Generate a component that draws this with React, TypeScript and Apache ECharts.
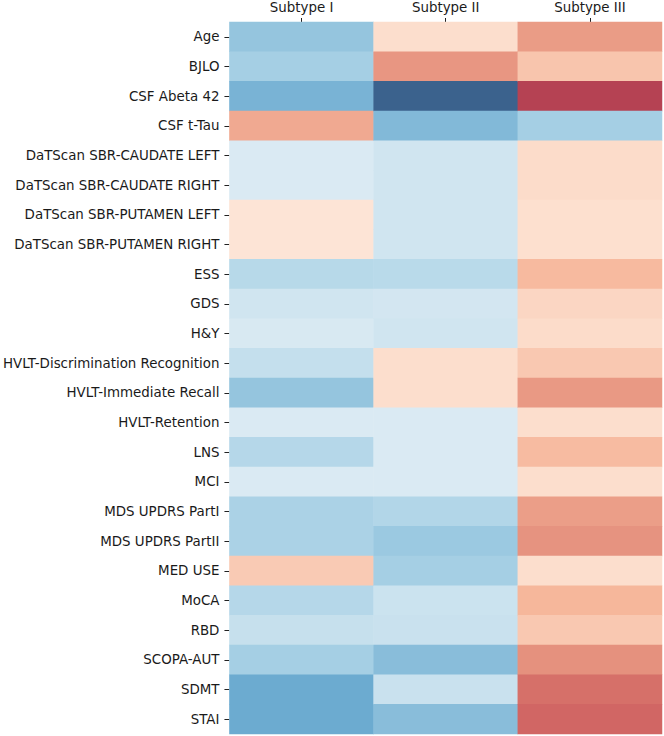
import React, { useEffect, useRef } from "react";
import * as echarts from "echarts";

const subtypes = ["Subtype I", "Subtype II", "Subtype III"];

const features = [
  "Age",
  "BJLO",
  "CSF Abeta 42",
  "CSF t-Tau",
  "DaTScan SBR-CAUDATE LEFT",
  "DaTScan SBR-CAUDATE RIGHT",
  "DaTScan SBR-PUTAMEN LEFT",
  "DaTScan SBR-PUTAMEN RIGHT",
  "ESS",
  "GDS",
  "H&Y",
  "HVLT-Discrimination Recognition",
  "HVLT-Immediate Recall",
  "HVLT-Retention",
  "LNS",
  "MCI",
  "MDS UPDRS PartI",
  "MDS UPDRS PartII",
  "MED USE",
  "MoCA",
  "RBD",
  "SCOPA-AUT",
  "SDMT",
  "STAI",
];

const subtypeI = [
  -0.46, -0.41, -0.55, 0.45, -0.2, -0.2, 0.18, 0.18, -0.34, -0.24, -0.21, -0.29,
  -0.46, -0.2, -0.35, -0.2, -0.39, -0.39, 0.31, -0.35, -0.28, -0.41, -0.59, -0.59,
];
const subtypeII = [
  0.22, 0.52, -0.96, -0.52, -0.24, -0.24, -0.24, -0.24, -0.33, -0.23, -0.24, 0.22,
  0.22, -0.2, -0.2, -0.2, -0.36, -0.44, -0.41, -0.26, -0.27, -0.5, -0.27, -0.5,
];
const subtypeIII = [
  0.5, 0.335, 0.84, -0.41, 0.23, 0.23, 0.21, 0.21, 0.385, 0.255, 0.23, 0.32,
  0.51, 0.22, 0.38, 0.22, 0.49, 0.53, 0.22, 0.4, 0.32, 0.54, 0.655, 0.69,
];

// RdBu_r palette, softened with white (alpha ~0.8)
const palette = [
  "#375981",
  "#4d85bd",
  "#69a9cf",
  "#a8d1e5",
  "#daeaf3",
  "#f9f9f9",
  "#fde2d2",
  "#f6b79b",
  "#de8071",
  "#c14655",
  "#85334c",
];

export default function App() {
  const ref = useRef<HTMLDivElement>(null);

  useEffect(() => {
    if (!ref.current) return;
    const chart = echarts.init(ref.current, undefined, { renderer: "svg" });
    const cols = [subtypeI, subtypeII, subtypeIII];
    const data: [number, number, number][] = [];
    cols.forEach((arr, xi) => {
      arr.forEach((v, yi) => data.push([xi, yi, v]));
    });
    const font = "DejaVu Sans";
    chart.setOption({
      animation: false,
      backgroundColor: "#ffffff",
      grid: { left: 224, right: 2, top: 22, bottom: 2, containLabel: false },
      xAxis: {
        type: "category",
        position: "top",
        data: subtypes,
        axisLine: { show: false },
        axisTick: {
          show: true,
          alignWithLabel: true,
          length: 4,
          lineStyle: { color: "#222", width: 1 },
        },
        axisLabel: { fontFamily: font, fontSize: 13.4, color: "#1a1a1a", margin: 8 },
        splitLine: { show: false },
      },
      yAxis: {
        type: "category",
        inverse: true,
        data: features,
        axisLine: { show: false },
        axisTick: {
          show: true,
          alignWithLabel: true,
          length: 5,
          lineStyle: { color: "#222", width: 1 },
        },
        axisLabel: { fontFamily: font, fontSize: 13.4, color: "#1a1a1a", margin: 10 },
        splitLine: { show: false },
      },
      visualMap: {
        show: false,
        type: "continuous",
        min: -1,
        max: 1,
        dimension: 2,
        inRange: { color: palette },
      },
      series: [
        {
          type: "heatmap",
          data,
          itemStyle: { borderWidth: 0 },
          emphasis: { disabled: true },
        },
      ],
    });
    return () => chart.dispose();
  }, []);

  return (
    <div
      ref={ref}
      style={{ position: "fixed", left: 0, top: 0, width: 664, height: 736 }}
    />
  );
}
